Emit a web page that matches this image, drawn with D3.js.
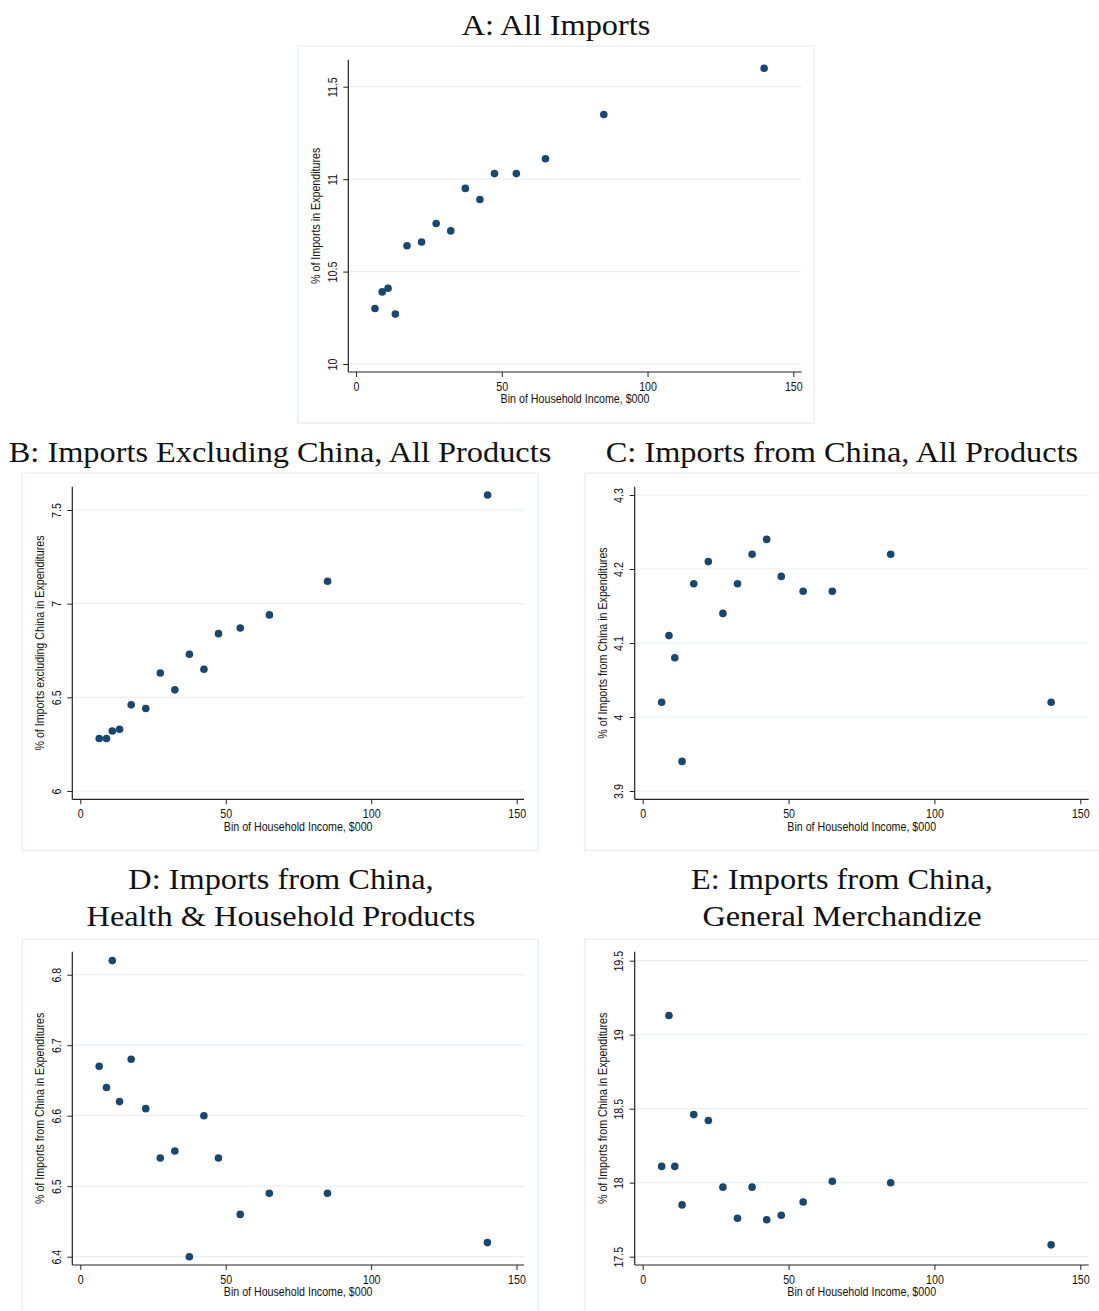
<!DOCTYPE html>
<html>
<head>
<meta charset="utf-8">
<script src="https://cdn.jsdelivr.net/npm/d3@7"></script>
<style>
  html, body { margin: 0; padding: 0; background: #ffffff; }
  svg { display: block; }
</style>
</head>
<body>
<svg id="chart" width="1099" height="1311"></svg>
<script>
// Income bins (midpoints, $000) shared by every panel
const incomeBins = [6.5, 9, 11, 13.5, 17.5, 22.5, 27.5, 32.5, 37.5, 42.5, 47.5, 55, 65, 85, 140];

// Share of imports in household expenditures, by income bin
const allImports           = [10.30, 10.39, 10.41, 10.27, 10.64, 10.66, 10.76, 10.72, 10.95, 10.89, 11.03, 11.03, 11.11, 11.35, 11.60];
const importsExChina       = [6.28, 6.28, 6.32, 6.33, 6.46, 6.44, 6.63, 6.54, 6.73, 6.65, 6.84, 6.87, 6.94, 7.12, 7.58];
const importsChina         = [4.02, 4.11, 4.08, 3.94, 4.18, 4.21, 4.14, 4.18, 4.22, 4.24, 4.19, 4.17, 4.17, 4.22, 4.02];
const chinaHealthHousehold = [6.67, 6.64, 6.82, 6.62, 6.68, 6.61, 6.54, 6.55, 6.40, 6.60, 6.54, 6.46, 6.49, 6.49, 6.42];
const chinaGeneralMerch    = [18.11, 19.13, 18.11, 17.85, 18.46, 18.42, 17.97, 17.76, 17.97, 17.75, 17.78, 17.87, 18.01, 18.00, 17.58];

// Axis ticks
const xTicks  = [0, 50, 100, 150];
const yTicksA = [10, 10.5, 11, 11.5];
const yTicksB = [6, 6.5, 7, 7.5];
const yTicksC = [3.9, 4, 4.1, 4.2, 4.3];
const yTicksD = [6.4, 6.5, 6.6, 6.7, 6.8];
const yTicksE = [17.5, 18, 18.5, 19, 19.5];

// Titles
const titleA = ["A: All Imports"];
const titleB = ["B: Imports Excluding China, All Products"];
const titleC = ["C: Imports from China, All Products"];
const titleD = ["D: Imports from China,", "Health & Household Products"];
const titleE = ["E: Imports from China,", "General Merchandize"];

const xLabel  = "Bin of Household Income, $000";
const yLabelA = "% of Imports in Expenditures";
const yLabelB = "% of Imports excluding China in Expenditures";
const yLabelC = "% of Imports from China in Expenditures";

const fmt = d => String(+d.toFixed(2));

// Panel layout (pixel geometry)
const panels = [
  { title: titleA, tx: 556, ty: [35],
    frame: [297.7, 46, 516.5, 377],
    plot: { l: 348.3, r: 801.7, t: 59.7, b: 372 },
    xr: [356, 793.3], yr: [364, 86.7],
    ticks: yTicksA, values: allImports, ylab: yLabelA },
  { title: titleB, tx: 280, ty: [462],
    frame: [22.3, 473.3, 516, 377],
    plot: { l: 72.3, r: 524, t: 486.7, b: 799.3 },
    xr: [80.3, 516.7], yr: [791, 510],
    ticks: yTicksB, values: importsExChina, ylab: yLabelB },
  { title: titleC, tx: 842, ty: [462],
    frame: [584.7, 473.3, 518, 377],
    plot: { l: 634.7, r: 1088.7, t: 486.7, b: 799.3 },
    xr: [642.7, 1080.3], yr: [791, 495],
    ticks: yTicksC, values: importsChina, ylab: yLabelC },
  { title: titleD, tx: 281, ty: [888.5, 926],
    frame: [22.3, 939.3, 516, 380],
    plot: { l: 72.3, r: 524, t: 951.7, b: 1265 },
    xr: [80.3, 516.5], yr: [1256.7, 974.7],
    ticks: yTicksD, values: chinaHealthHousehold, ylab: yLabelC },
  { title: titleE, tx: 842, ty: [888.5, 926],
    frame: [584.7, 939.3, 518, 380],
    plot: { l: 634.7, r: 1088.7, t: 951.7, b: 1265 },
    xr: [642.7, 1080.3], yr: [1256.7, 960.7],
    ticks: yTicksE, values: chinaGeneralMerch, ylab: yLabelC }
];

const svg = d3.select("#chart");
const SANS = "'Liberation Sans', Arial, sans-serif";
const SERIF = "'Liberation Serif', 'Times New Roman', serif";
const NARROW = 0.82;       // condensed sans look
const SERIF_WIDE = 1.115;  // wider serif look for titles
const gridColor = "#e7eff1";
const axisColor = "#222";
const markColor = "#1a476f";

function condense(sel, k) {
  sel.each(function () {
    const len = this.getComputedTextLength();
    d3.select(this).attr("textLength", len * k).attr("lengthAdjust", "spacingAndGlyphs");
  });
}

panels.forEach(p => {
  const g = svg.append("g");
  const [fx, fy, fw, fh] = p.frame;

  // outer frame
  g.append("rect")
    .attr("x", fx).attr("y", fy).attr("width", fw).attr("height", fh)
    .attr("fill", "none").attr("stroke", "#e9f0f2").attr("stroke-width", 1.5);

  // title
  p.title.forEach((line, i) => {
    g.append("text")
      .attr("x", p.tx).attr("y", p.ty[i])
      .attr("text-anchor", "middle")
      .style("font-family", SERIF).style("font-size", "29px").attr("fill", "#111")
      .text(line)
      .call(condense, SERIF_WIDE);
  });

  const x = d3.scaleLinear().domain([0, 150]).range(p.xr);
  const y = d3.scaleLinear().domain([p.ticks[0], p.ticks[p.ticks.length - 1]]).range(p.yr);

  // gridlines
  g.append("g").selectAll("line").data(p.ticks).join("line")
    .attr("x1", p.plot.l).attr("x2", p.plot.r)
    .attr("y1", d => y(d)).attr("y2", d => y(d))
    .attr("stroke", gridColor).attr("stroke-width", 1.2);

  // x axis
  const xa = g.append("g")
    .attr("transform", `translate(0,${p.plot.b})`)
    .call(d3.axisBottom(x).tickValues(xTicks).tickSize(5).tickSizeOuter(0).tickFormat(fmt));
  xa.select(".domain").remove();
  xa.append("line").attr("x1", p.plot.l).attr("x2", p.plot.r)
    .attr("stroke", axisColor).attr("stroke-width", 1.2);
  xa.selectAll(".tick line").attr("stroke", axisColor).attr("stroke-width", 1);
  xa.selectAll(".tick text")
    .attr("y", 18.5).attr("dy", null)
    .style("font-family", SANS).style("font-size", "13px").attr("fill", "#111")
    .call(condense, NARROW);

  // y axis
  const ya = g.append("g")
    .attr("transform", `translate(${p.plot.l},0)`)
    .call(d3.axisLeft(y).tickValues(p.ticks).tickSize(5).tickSizeOuter(0).tickFormat(fmt));
  ya.select(".domain").remove();
  ya.append("line").attr("y1", p.plot.t).attr("y2", p.plot.b)
    .attr("stroke", axisColor).attr("stroke-width", 1.2);
  ya.selectAll(".tick line").attr("stroke", axisColor).attr("stroke-width", 1);
  ya.selectAll(".tick text")
    .attr("x", null).attr("dy", null)
    .attr("transform", "translate(-11.5,0) rotate(-90)")
    .attr("text-anchor", "middle")
    .style("font-family", SANS).style("font-size", "13px").attr("fill", "#111")
    .call(condense, NARROW);

  // axis titles
  g.append("text")
    .attr("x", (p.plot.l + p.plot.r) / 2).attr("y", p.plot.b + 31.3)
    .attr("text-anchor", "middle")
    .style("font-family", SANS).style("font-size", "13px").attr("fill", "#111")
    .text(xLabel)
    .call(condense, NARROW);

  g.append("text")
    .attr("transform", `translate(${p.plot.l - 28},${(p.plot.t + p.plot.b) / 2}) rotate(-90)`)
    .attr("text-anchor", "middle")
    .style("font-family", SANS).style("font-size", "13px").attr("fill", "#111")
    .text(p.ylab)
    .call(condense, NARROW);

  // points
  g.append("g").selectAll("circle").data(incomeBins.map((b, i) => [b, p.values[i]])).join("circle")
    .attr("cx", d => x(d[0])).attr("cy", d => y(d[1]))
    .attr("r", 3.8).attr("fill", markColor);
});
</script>
</body>
</html>
